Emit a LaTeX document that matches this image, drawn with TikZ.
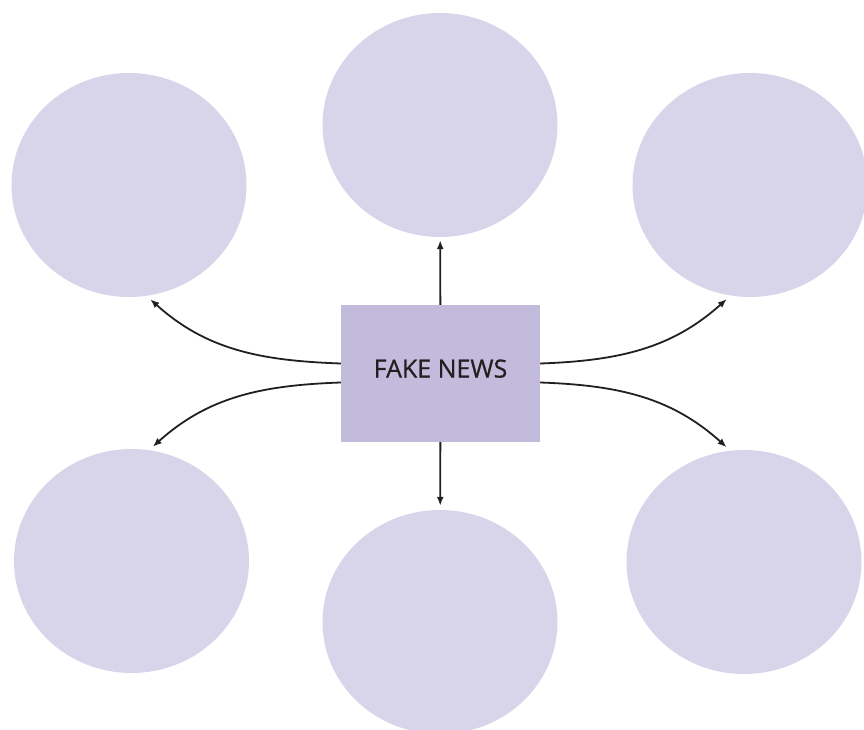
\documentclass[tikz,border=0pt]{standalone}
\usepackage{fontspec}
\setmainfont{Open Sans}
\newfontfamily\boxfont{Open Sans}[FakeBold=0.7]
\usetikzlibrary{arrows.meta, positioning, shapes.geometric}

\definecolor{bubblefill}{HTML}{D8D5EA}
\definecolor{boxfill}{HTML}{C2BBDC}
\definecolor{inkdark}{HTML}{231F20}

\begin{document}
\begin{tikzpicture}[
    x=1pt, y=1pt,
    % Standard arrow
    arrow/.style={-{Latex[length=9pt, width=7pt]}, draw=inkdark, line width=1.8pt},
    % Empty bubbles round the box
    bubble/.style={ellipse, fill=bubblefill, draw=none,
                   minimum width=235pt, minimum height=224pt},
    newsbox/.style={rectangle, fill=boxfill, draw=none,
                    minimum width=199pt, minimum height=137pt,
                    text depth=10pt, text=inkdark,
                    font=\boxfont\fontsize{25}{30}\selectfont}
]
\useasboundingbox (0,0) rectangle (864,729);

% === NODES ===

% Centre box
	\node [newsbox] (news) at (440.5,355.5) {FAKE NEWS};

% Top row
	\node [bubble] (topleft) at (129,544) {};
	\node [bubble] (topmid) at (440,604) {};
	\node [bubble] (topright) at (750,544) {};

% Bottom row
	\node [bubble] (botleft) at (131.5,168) {};
	\node [bubble] (botmid) at (440,107) {};
	\node [bubble] (botright) at (744,167) {};

% === ARROWS ===

% straight up and down
\draw[arrow, shorten >=3pt] (news) -- (topmid);
\draw[arrow, shorten >=4pt] (news) -- (botmid);

% left side
\draw[arrow, shorten >=5pt] ([yshift=10pt]news.west) to[out=178, in=-42] (topleft.-81);
\draw[arrow, shorten >=5pt] ([yshift=-9pt]news.west) to[out=182, in=42] (botleft.81);

% right side
\draw[arrow, shorten >=5pt] ([yshift=10pt]news.east) to[out=2, in=-138] (topright.-100);
\draw[arrow, shorten >=5pt] ([yshift=-9pt]news.east) to[out=-2, in=138] (botright.97);

\end{tikzpicture}
\end{document}
